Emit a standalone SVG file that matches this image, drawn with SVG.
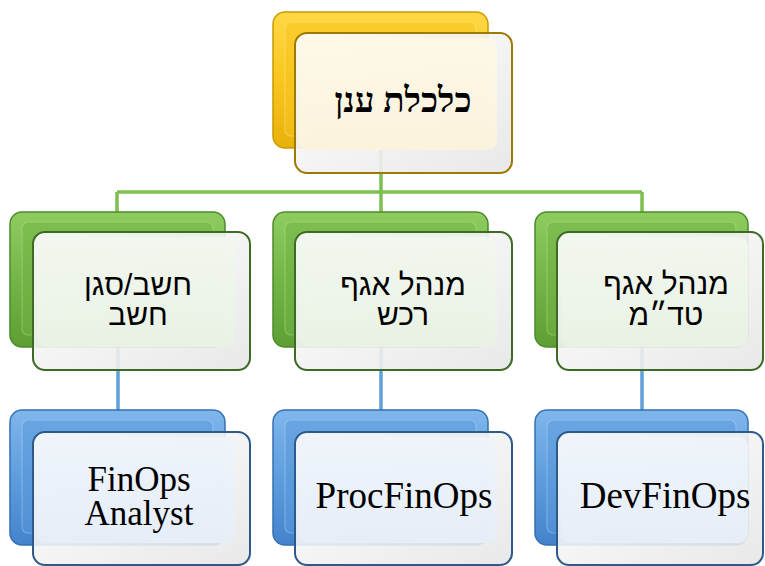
<svg xmlns="http://www.w3.org/2000/svg" width="765" height="566" viewBox="0 0 765 566">
<defs>
<linearGradient id="gY" x1="0" y1="0" x2="0" y2="1"><stop offset="0" stop-color="#FFD845"/><stop offset="0.5" stop-color="#F8C61F"/><stop offset="1" stop-color="#E8B00A"/></linearGradient>
<linearGradient id="gG" x1="0" y1="0" x2="0" y2="1"><stop offset="0" stop-color="#8ECC60"/><stop offset="0.5" stop-color="#74B548"/><stop offset="1" stop-color="#5E9F35"/></linearGradient>
<linearGradient id="gB" x1="0" y1="0" x2="0" y2="1"><stop offset="0" stop-color="#80B6EC"/><stop offset="0.5" stop-color="#5E9DDD"/><stop offset="1" stop-color="#4483CB"/></linearGradient>
<linearGradient id="bev" x1="0" y1="0" x2="1" y2="1"><stop offset="0" stop-color="#FFFFFF"/><stop offset="1" stop-color="#E6E6E6"/></linearGradient>
<linearGradient id="fY" x1="0" y1="0" x2="0" y2="1"><stop offset="0" stop-color="#FDF8E8"/><stop offset="1" stop-color="#FBF3DC"/></linearGradient>
<linearGradient id="fG" x1="0" y1="0" x2="0" y2="1"><stop offset="0" stop-color="#F2F7EF"/><stop offset="1" stop-color="#EAF2E4"/></linearGradient>
<linearGradient id="fB" x1="0" y1="0" x2="0" y2="1"><stop offset="0" stop-color="#EFF4FA"/><stop offset="1" stop-color="#E6EEF8"/></linearGradient>
<style>
.conG{fill:none;stroke:#7DC050;stroke-width:3.5}
.conB{fill:none;stroke:#5E9FDC;stroke-width:3.5}
.backY{fill:url(#gY);stroke:#C99B00;stroke-width:1.5}
.backG{fill:url(#gG);stroke:#4C8A2A;stroke-width:1.5}
.backB{fill:url(#gB);stroke:#3470B3;stroke-width:1.5}
.inY{fill:#F7C41C;stroke:#FFE27A;stroke-width:1.2;opacity:0.5}
.inG{fill:#72B346;stroke:#A6DA7E;stroke-width:1.2;opacity:0.5}
.inB{fill:#5A99DB;stroke:#9DCBF5;stroke-width:1.2;opacity:0.5}
.outer{fill:url(#bev);fill-opacity:0.9;stroke-width:2}
.oY{stroke:#9C7A00}
.oG{stroke:#3D6B25}
.oB{stroke:#2D5A8A}
.faceY{fill:url(#fY);fill-opacity:0.94}
.faceG{fill:url(#fG);fill-opacity:0.94}
.faceB{fill:url(#fB);fill-opacity:0.94}
.t1{font-family:"Liberation Serif","DejaVu Serif",serif;font-weight:bold;font-size:35px;fill:#000;text-anchor:middle}
.t2{font-family:"Liberation Sans","DejaVu Sans",sans-serif;font-size:30px;fill:#000;text-anchor:middle}
.t3{font-family:"Liberation Serif","DejaVu Serif",serif;font-size:37px;fill:#000;text-anchor:middle}
.t3s{font-size:35px}
</style>
</defs>
<rect width="765" height="566" fill="#FFFFFF"/>
<g id="connectors">
<path class="conG" d="M381 150 V192 M117 192 H642 M117 192 V214 M381 192 V214 M642 192 V214"/>
<path class="conB" d="M118 345 V412 M381 345 V412 M642 345 V412"/>
</g>
<g id="node-top">
<rect class="backY" x="273" y="12" width="215" height="136" rx="12"/>
<rect class="inY" x="285" y="22" width="191" height="114" rx="6"/>
<rect class="outer oY" x="295" y="33" width="217" height="140" rx="12"/>
<rect class="faceY" x="299" y="38" width="198" height="112" rx="9"/>
<text class="t1" x="403" y="112" direction="rtl">כלכלת ענן</text>
</g>
<g id="node-mid-left">
<rect class="backG" x="10" y="212" width="215" height="135" rx="12"/>
<rect class="inG" x="22" y="222" width="191" height="113" rx="6"/>
<rect class="outer oG" x="33" y="232" width="217" height="138" rx="12"/>
<rect class="faceG" x="37" y="237" width="198" height="110" rx="9"/>
<text class="t2" direction="rtl"><tspan x="138" y="295">חשב/סגן</tspan><tspan x="138" y="325">חשב</tspan></text>
</g>
<g id="node-mid-center">
<rect class="backG" x="273" y="212" width="215" height="135" rx="12"/>
<rect class="inG" x="285" y="222" width="191" height="113" rx="6"/>
<rect class="outer oG" x="295" y="232" width="217" height="138" rx="12"/>
<rect class="faceG" x="299" y="237" width="198" height="110" rx="9"/>
<text class="t2" direction="rtl"><tspan x="403" y="295">מנהל אגף</tspan><tspan x="403" y="325">רכש</tspan></text>
</g>
<g id="node-mid-right">
<rect class="backG" x="535" y="212" width="213" height="135" rx="12"/>
<rect class="inG" x="547" y="222" width="189" height="113" rx="6"/>
<rect class="outer oG" x="557" y="232" width="206" height="138" rx="12"/>
<rect class="faceG" x="561" y="237" width="187" height="110" rx="9"/>
<text class="t2" direction="rtl"><tspan x="666" y="294">מנהל אגף</tspan><tspan x="666" y="325">טד״מ</tspan></text>
</g>
<g id="node-bot-left">
<rect class="backB" x="10" y="410" width="215" height="135" rx="12"/>
<rect class="inB" x="22" y="420" width="191" height="113" rx="6"/>
<rect class="outer oB" x="33" y="432" width="217" height="133" rx="12"/>
<rect class="faceB" x="37" y="437" width="198" height="106" rx="9"/>
<text class="t3 t3s"><tspan x="139" y="491">FinOps</tspan><tspan x="139" y="525">Analyst</tspan></text>
</g>
<g id="node-bot-center">
<rect class="backB" x="273" y="410" width="215" height="135" rx="12"/>
<rect class="inB" x="285" y="420" width="191" height="113" rx="6"/>
<rect class="outer oB" x="295" y="432" width="217" height="133" rx="12"/>
<rect class="faceB" x="299" y="437" width="198" height="106" rx="9"/>
<text class="t3" x="404" y="508">ProcFinOps</text>
</g>
<g id="node-bot-right">
<rect class="backB" x="535" y="410" width="213" height="135" rx="12"/>
<rect class="inB" x="547" y="420" width="189" height="113" rx="6"/>
<rect class="outer oB" x="557" y="432" width="206" height="133" rx="12"/>
<rect class="faceB" x="561" y="437" width="187" height="106" rx="9"/>
<text class="t3" x="665" y="508">DevFinOps</text>
</g>
</svg>
